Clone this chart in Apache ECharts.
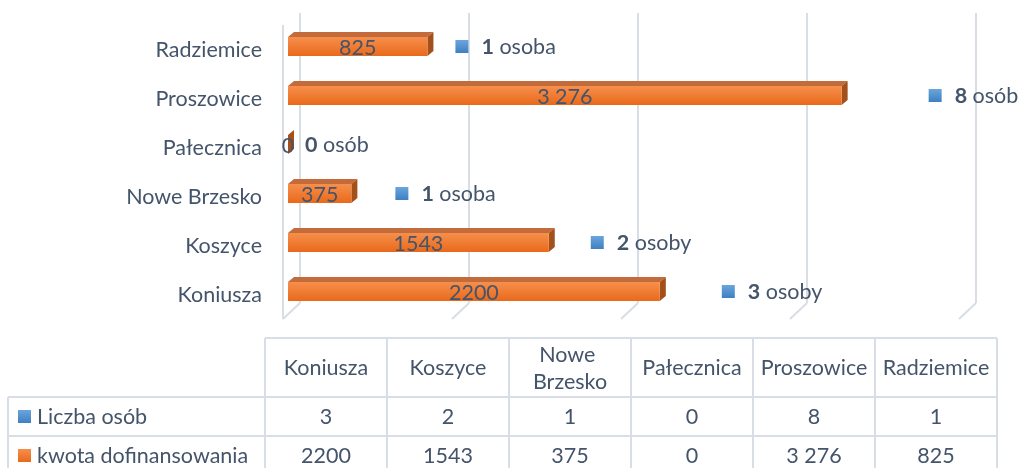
<!DOCTYPE html>
<html>
<head>
<meta charset="utf-8">
<script src="https://cdn.jsdelivr.net/npm/echarts@6/dist/echarts.min.js"></script>
<style>
  html, body { margin: 0; padding: 0; background: #fff; }
  #main { width: 1020px; height: 468px; }
</style>
</head>
<body>
<div id="main"></div>
<script>
// dane
var gminy = ['Koniusza', 'Koszyce', 'Nowe Brzesko', 'Pałecznica', 'Proszowice', 'Radziemice'];
var liczbaOsob = [3, 2, 1, 0, 8, 1];
var kwota = [2200, 1543, 375, 0, 3276, 825];
var kwotaTekst = ['2200', '1543', '375', '0', '3 276', '825'];
var osobyTekst = ['osoby', 'osoby', 'osoba', 'osób', 'osób', 'osoba'];
var serie = ['Liczba osób', 'kwota dofinansowania'];
var osX = [0, 1000, 2000, 3000, 4000];

// odstęp etykiety "osoby" od końca słupka (w oryginale ułożone ręcznie)
var odstep = [62, 42, 44, 17, 87, 28];

var FONT = 'Lato';
var FS = 21.5;
var TXT = '#44546a';
var LINIA = '#d9dee6';
var niebieski = new echarts.graphic.LinearGradient(0, 0, 0, 1, [
  { offset: 0, color: '#6aa6dc' }, { offset: 1, color: '#3f7fc2' }
]);
var pomaranczowy = new echarts.graphic.LinearGradient(0, 0, 0, 1, [
  { offset: 0, color: '#f68f4c' }, { offset: 1, color: '#e9691b' }
]);

var chart = echarts.init(document.getElementById('main'));

// słupek 3D: przód, góra i bok
function slupek(params, api) {
  var i = params.dataIndex;
  var p0 = api.coord([0, i]);
  var p1 = api.coord([api.value(0), i]);
  var h = 19;
  var top = p0[1] - h / 2;
  var dx = 6, dy = 5;
  var x0 = p0[0], x1 = p1[0];
  return {
    type: 'group',
    children: [
      { type: 'polygon', shape: { points: [[x0, top], [x0 + dx, top - dy], [x1 + dx, top - dy], [x1, top]] },
        style: { fill: '#c36b3b' } },
      { type: 'polygon', shape: { points: [[x1, top], [x1 + dx, top - dy], [x1 + dx, top + h - dy], [x1, top + h]] },
        style: { fill: '#a4501b' } },
      { type: 'rect', shape: { x: x0, y: top, width: x1 - x0, height: h },
        style: { fill: pomaranczowy } },
      { type: 'text', x: (x0 + x1) / 2, y: top + h / 2 + 2,
        style: { text: kwotaTekst[i], align: 'center', verticalAlign: 'middle',
          font: FS + 'px ' + FONT, fill: TXT } }
    ]
  };
}

// etykieta liczby osób obok słupka
function etykieta(params, api) {
  var i = params.dataIndex;
  var end = api.coord([kwota[i], i]);
  var x = end[0] + odstep[i];
  var cy = end[1];
  var children = [];
  var tx = x;
  if (api.value(0) > 0) {
    children.push({ type: 'rect', shape: { x: x, y: cy - 6.5, width: 13, height: 13 },
      style: { fill: niebieski } });
    tx = x + 26;
  }
  children.push({
    type: 'text', x: tx, y: cy + 1,
    style: {
      text: '{b|' + api.value(0) + '}{n| ' + osobyTekst[i] + '}',
      verticalAlign: 'middle',
      fill: TXT,
      rich: {
        b: { fontFamily: FONT, fontSize: FS, fontWeight: 'bold', fill: TXT },
        n: { fontFamily: FONT, fontSize: FS, fill: TXT }
      }
    }
  });
  return { type: 'group', children: children };
}

var option = {
  animation: false,
  grid: [
    { left: 288, right: 56, top: 22, height: 294 },
    { left: 300, width: 676, top: 13, height: 290 }
  ],
  xAxis: [
    { type: 'value', gridIndex: 0, min: osX[0], max: osX[osX.length - 1], interval: 1000, show: false },
    { type: 'value', gridIndex: 1, min: osX[0], max: osX[osX.length - 1], interval: 1000,
      axisLabel: { show: false }, axisTick: { show: false }, axisLine: { show: false },
      splitLine: { show: true, lineStyle: { color: LINIA, width: 2 } } }
  ],
  yAxis: [
    { type: 'category', gridIndex: 0, data: gminy,
      axisLine: { show: false }, axisTick: { show: false },
      axisLabel: { margin: 26, formatter: '{a|{value}}',
        rich: { a: { fontFamily: FONT, fontSize: FS, color: TXT, padding: [7, 0, 0, 0] } } } },
    { type: 'value', gridIndex: 1, show: false }
  ],
  series: [
    { name: serie[1], type: 'custom', xAxisIndex: 0, yAxisIndex: 0, z: 3,
      renderItem: slupek, encode: { x: 0, y: 1 },
      data: kwota.map(function (v, i) { return [v, i]; }) },
    { name: serie[0], type: 'custom', xAxisIndex: 0, yAxisIndex: 0, z: 4,
      renderItem: etykieta, encode: { x: 0, y: 1 },
      data: liczbaOsob.map(function (v, i) { return [v, i]; }) }
  ]
};
chart.setOption(option);

// ściany 3D: skośne linie podłogi i lewa krawędź
var graf = [];
var scianaDol = 303, przodDol = 319;
osX.forEach(function (v) {
  var bx = chart.convertToPixel({ xAxisIndex: 1 }, v);
  graf.push({ type: 'line', shape: { x1: bx, y1: scianaDol, x2: bx - 17, y2: przodDol },
    style: { stroke: LINIA, lineWidth: 2 } });
});
var bx0 = chart.convertToPixel({ xAxisIndex: 1 }, osX[0]);
graf.push({ type: 'line', shape: { x1: bx0 - 17, y1: 25, x2: bx0 - 17, y2: przodDol },
  style: { stroke: LINIA, lineWidth: 2 } });

// tabela danych pod wykresem
var tLewo = 8, tKol = 265, kolW = 122, tGora = 338, naglH = 59, wierszH = 39;
var tPrawo = tKol + kolW * gminy.length;
var wiersze = [liczbaOsob, kwotaTekst];
var klucze = [niebieski, pomaranczowy];

function linia(x1, y1, x2, y2) {
  return { type: 'line', z: 10, shape: { x1: x1, y1: y1, x2: x2, y2: y2 },
    style: { stroke: LINIA, lineWidth: 2 } };
}
var dol = tGora + naglH + wierszH * 2;
graf.push(linia(tKol, tGora, tPrawo, tGora));
for (var r = 0; r <= 2; r++) {
  var y = tGora + naglH + r * wierszH;
  graf.push(linia(tLewo, y, tPrawo, y));
}
graf.push(linia(tLewo, tGora + naglH, tLewo, dol));
for (var c = 0; c <= gminy.length; c++) {
  graf.push(linia(tKol + c * kolW, tGora, tKol + c * kolW, dol));
}
gminy.forEach(function (g, c) {
  graf.push({ type: 'text', z: 10, x: tKol + c * kolW + kolW / 2, y: tGora + naglH / 2 + 1,
    style: { text: g, width: kolW - 6, overflow: 'break', align: 'center', verticalAlign: 'middle',
      font: FS + 'px ' + FONT, fill: TXT, lineHeight: 27 } });
});
wiersze.forEach(function (w, r) {
  var cy = tGora + naglH + r * wierszH + wierszH / 2;
  graf.push({ type: 'rect', z: 10, shape: { x: 18, y: cy - 6.5, width: 13, height: 13 },
    style: { fill: klucze[r] } });
  graf.push({ type: 'text', z: 10, x: 37, y: cy + 1,
    style: { text: serie[r], verticalAlign: 'middle', font: FS + 'px ' + FONT, fill: TXT } });
  w.forEach(function (v, c) {
    graf.push({ type: 'text', z: 10, x: tKol + c * kolW + kolW / 2, y: cy + 1,
      style: { text: String(v), align: 'center', verticalAlign: 'middle', font: FS + 'px ' + FONT, fill: TXT } });
  });
});

chart.setOption({ graphic: graf });
</script>
</body>
</html>
